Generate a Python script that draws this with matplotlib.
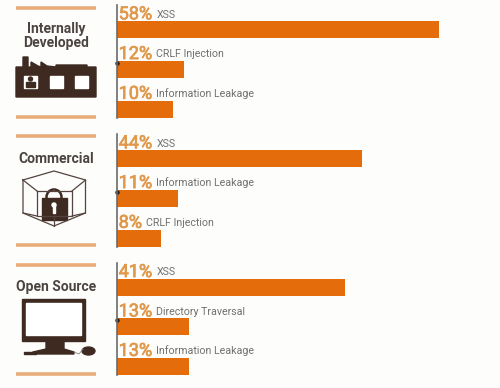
import matplotlib
matplotlib.use("Agg")
import matplotlib.pyplot as plt
import matplotlib.patheffects as pe
from matplotlib.patches import Polygon, Rectangle, Ellipse

groups = ["Internally\nDeveloped", "Commercial", "Open Source"]
labels = [
    ["XSS", "CRLF Injection", "Information Leakage"],
    ["XSS", "Information Leakage", "CRLF Injection"],
    ["XSS", "Directory Traversal", "Information Leakage"],
]
values = [
    [58, 12, 10],
    [44, 11, 8],
    [41, 13, 13],
]

W, H = 500, 388
ORANGE = "#e46c0a"
TAN = "#e0984a"
LINE = "#e9ad7c"
BROWN = "#3f2a22"
BG = "#fdfdfc"

plt.rcParams["font.family"] = ["Roboto", "DejaVu Sans"]
fig = plt.figure(figsize=(W / 100, H / 100), dpi=100, facecolor=BG)

# overlay in pixel coordinates for the decoration
deco = fig.add_axes([0, 0, 1, 1], facecolor="none")
deco.set_xlim(0, W)
deco.set_ylim(H, 0)
deco.axis("off")

tops = [5, 134, 263]
bottoms = [118, 247, 375]
rule_y = [(7.5, 116.5), (136, 245), (265, 373.5)]
title_y = [36, 159, 287]

for i, name in enumerate(groups):
    top, bot = tops[i], bottoms[i]
    ax = fig.add_axes([117 / W, 1 - bot / H, 383 / W, (bot - top) / H], facecolor="none")
    rows = range(len(values[i]))
    ax.barh(list(rows), values[i], height=0.43, color=ORANGE)
    ax.set_xlim(0, 383 / 5.56)
    ax.set_ylim(2.22, -0.62)
    for s in ["top", "right", "bottom"]:
        ax.spines[s].set_visible(False)
    ax.spines["left"].set_color("#6b6b6b")
    ax.spines["left"].set_linewidth(1.2)
    ax.set_xticks([])
    ax.set_yticks([1], [""])
    ax.tick_params(axis="y", length=0)
    ax.plot([0], [0.83], "o", ms=2.2, color="#222222", clip_on=False, transform=ax.get_yaxis_transform())
    for r, v, lab in zip(rows, values[i], labels[i]):
        pct = ax.annotate(f"{v}%", (0, r), xytext=(1.2, 4.6), textcoords="offset points",
                          fontsize=13, color=TAN, va="bottom",
                          path_effects=[pe.withStroke(linewidth=0.5, foreground=TAN)])
        ax.annotate(lab, (1, 0), xycoords=pct, xytext=(3, 2.6), textcoords="offset points",
                    fontsize=7.7, color="#707070", va="bottom")

    for y in rule_y[i]:
        deco.plot([16, 96], [y, y], color=LINE, lw=2.6, solid_capstyle="butt")
    deco.text(56, title_y[i], name, ha="center", va="center", fontsize=10,
              fontweight="bold", color="#4c4440", linespacing=0.95)

# factory
deco.add_patch(Polygon([(16, 97), (16, 67), (23, 67), (23, 57), (28, 57), (28, 67), (31, 67), (31, 62),
                        (38, 66), (41, 67), (41, 62), (47, 66), (56, 67), (56, 65), (87, 65), (87, 67),
                        (96, 67), (96, 97)], color=BROWN))
for x in [24, 50, 75]:
    deco.add_patch(Rectangle((x, 76), 13, 12, color="white"))
deco.add_patch(Ellipse((30.5, 79), 4, 4, color=BROWN))
deco.add_patch(Rectangle((26, 82), 9, 5, color=BROWN))

# crate with padlock
cube = [[(23, 180), (54, 171), (85.5, 180), (85.5, 213), (54, 226), (23, 213), (23, 180)],
        [(37, 191), (72, 191), (72, 216), (37, 216), (37, 191)],
        [(23, 180), (37, 191)], [(85.5, 180), (72, 191)],
        [(23, 213), (37, 216)], [(85.5, 213), (72, 216)],
        [(54, 226), (54, 216)]]
for seg in cube:
    deco.plot(*zip(*seg), color="#54443d", lw=0.9)
deco.add_patch(Ellipse((54, 197), 15, 15, fill=False, ec=BROWN, lw=1.8))
deco.add_patch(Rectangle((42, 198), 25, 22, color=BROWN))
deco.add_patch(Ellipse((54, 205), 4, 4, color="white"))
deco.add_patch(Rectangle((53, 205), 2, 8, color="white"))

# monitor
deco.add_patch(Rectangle((22, 299), 63, 42, color=BROWN))
deco.add_patch(Rectangle((26, 303), 55, 32, color="white"))
deco.add_patch(Polygon([(46, 341), (64, 341), (64, 349), (74, 352), (74, 354), (33, 354), (33, 352), (46, 349)], color=BROWN))
deco.add_patch(Ellipse((88.5, 351), 13, 8, color=BROWN))
deco.plot([74, 79, 83], [352, 354, 349], color="#888888", lw=0.6)
deco.add_patch(Rectangle((24, 352), 12, 2, color=BROWN))

fig.savefig("out.png", dpi=100, facecolor=BG)
